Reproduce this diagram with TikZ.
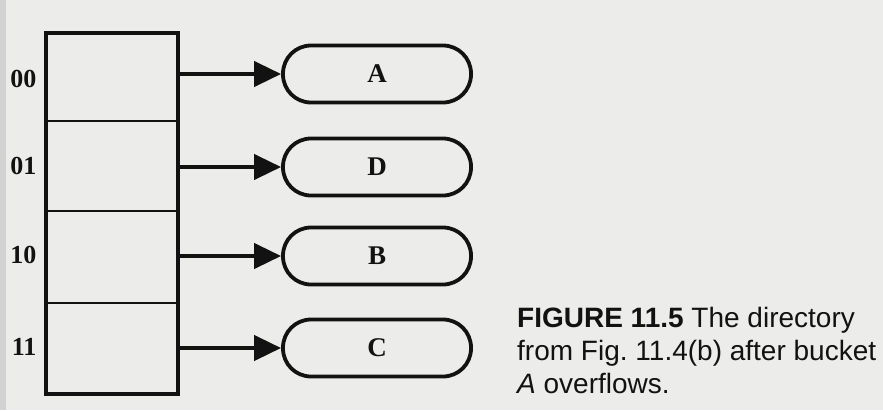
\documentclass[tikz,border=0pt]{standalone}
\usepackage{fontspec}
\setmainfont{Liberation Serif}
\newfontfamily\capfont{Liberation Sans}
\usetikzlibrary{arrows.meta}
\definecolor{paper}{RGB}{236,236,234}
\definecolor{ink}{RGB}{18,18,18}
\tikzset{
  cell/.style={draw=ink, line width=2.4pt, minimum width=132pt, inner sep=0pt, fill=none},
  bucket/.style={draw=ink, line width=3.8pt, rounded corners=28pt, minimum width=188pt, minimum height=57pt, inner sep=0pt, font=\fontsize{27}{27}\selectfont\bfseries, text=ink},
  lab/.style={font=\fontsize{26}{26}\selectfont\bfseries, text=ink, anchor=east},
  ptr/.style={draw=ink, line width=4.2pt, -{Triangle[length=27pt,width=25pt]}},
  captext/.style={anchor=base west, align=left, inner sep=0pt, text=ink, font=\capfont\fontsize{28}{33}\selectfont}
}
\begin{document}
\begin{tikzpicture}[x=1pt,y=-1pt]
\fill[paper] (0,0) rectangle (883,410);
\fill[gray!35] (0,0) rectangle (6,410);
\useasboundingbox (0,0) rectangle (883,410);
% directory cells
\node[cell, minimum height=88pt] (c0) at (112,77) {};
\node[cell, minimum height=90pt] (c1) at (112,166) {};
\node[cell, minimum height=92pt] (c2) at (112,257) {};
\node[cell, minimum height=91pt] (c3) at (112,348.5) {};
\node[draw=ink, line width=3.8pt, minimum width=132pt, minimum height=361pt, inner sep=0pt] (dir) at (112,213.5) {};
% labels
\node[lab] (l0) at (40,79) {00};
\node[lab] (l1) at (40,166) {01};
\node[lab] (l2) at (40,255) {10};
\node[lab] (l3) at (40,347) {11};
% buckets
\node[bucket] (bA) at (377,74) {A};
\node[bucket] (bD) at (377,167) {D};
\node[bucket] (bB) at (377,256) {B};
\node[bucket] (bC) at (377,348) {C};
% pointers
\draw[ptr] (bA.west -| dir.east) -- (bA.west);
\draw[ptr] (bD.west -| dir.east) -- (bD.west);
\draw[ptr] (bB.west -| dir.east) -- (bB.west);
\draw[ptr] (bC.west -| dir.east) -- (bC.west);
% caption
\node[captext] (caption) at (517,393) {{\bfseries FIGURE 11.5} The directory\\from Fig.~11.4(b) after bucket\\\textit{A} overflows.};
\end{tikzpicture}
\end{document}
